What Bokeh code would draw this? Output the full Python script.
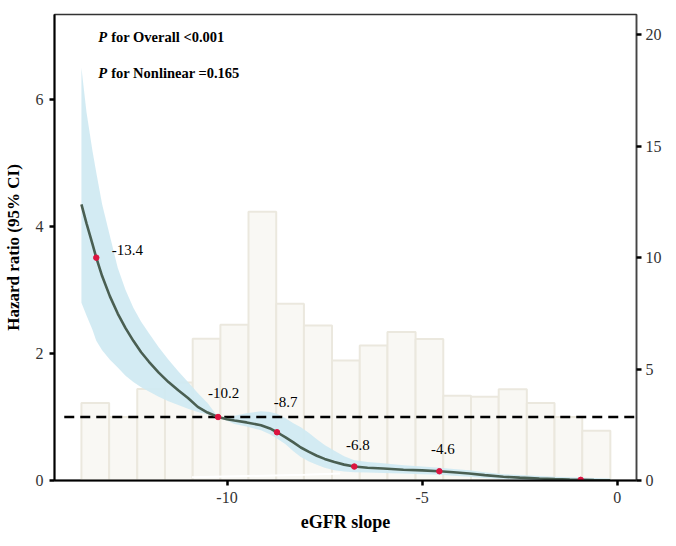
from bokeh.plotting import figure
from bokeh.models import Range1d, LinearAxis, FixedTicker, ColumnDataSource, Label, PrintfTickFormatter
from bokeh.core.properties import value
from bokeh.embed import file_html
from bokeh.resources import INLINE

# ---------------- data ----------------
bin_edges = [-13.73, -13.02, -12.30, -11.59, -10.88, -10.17, -9.45, -8.74, -8.03, -7.31,
             -6.60, -5.89, -5.17, -4.46, -3.75, -3.04, -2.32, -1.61, -0.90, -0.18]
bin_pct = [3.48, 2.85, 4.11, 4.40, 6.36, 6.99, 12.06, 7.93, 6.96, 5.38,
           6.06, 6.66, 6.35, 3.80, 3.76, 4.10, 3.48, 2.85, 2.23]

slope_x = [-13.73, -13.6, -13.45, -13.35, -13.2, -13.0, -12.8, -12.6, -12.4, -12.2,
           -12.0, -11.75, -11.5, -11.25, -11.0, -10.75, -10.5, -10.23,
           -10.0, -9.81, -9.5, -9.13, -8.9, -8.72, -8.5, -8.3, -8.11, -7.9, -7.7,
           -7.5, -7.25, -7.0, -6.74, -6.4, -6.0, -5.48, -5.0, -4.56, -4.2, -3.8,
           -3.4, -2.92, -2.5, -2.0, -1.6, -1.22, -0.6, -0.18]
hr = [4.35, 4.05, 3.73, 3.51, 3.22, 2.9, 2.63, 2.4, 2.2, 2.02,
      1.87, 1.7, 1.55, 1.42, 1.3, 1.16, 1.07, 1.0,
      0.965, 0.945, 0.915, 0.87, 0.82, 0.76, 0.68, 0.6, 0.52, 0.45, 0.39,
      0.34, 0.29, 0.25, 0.22, 0.2, 0.19, 0.17, 0.16, 0.146, 0.13, 0.11,
      0.085, 0.06, 0.045, 0.032, 0.022, 0.015, 0.008, 0.005]
hr_upper = [6.5, 5.8, 5.2, 4.85, 4.35, 3.85, 3.35, 3.0, 2.72, 2.5,
            2.32, 2.1, 1.9, 1.72, 1.55, 1.38, 1.22, 1.0,
            0.99, 1.02, 1.06, 1.09, 1.08, 1.05, 0.98, 0.9, 0.84, 0.75, 0.65,
            0.56, 0.47, 0.38, 0.32, 0.29, 0.27, 0.24, 0.22, 0.2, 0.18, 0.16,
            0.13, 0.1, 0.085, 0.07, 0.06, 0.05, 0.04, 0.03]
hr_lower = [2.8, 2.6, 2.38, 2.2, 2.05, 1.9, 1.78, 1.65, 1.55, 1.47,
            1.4, 1.32, 1.25, 1.19, 1.13, 1.08, 1.04, 1.0,
            0.94, 0.89, 0.85, 0.79, 0.73, 0.66, 0.57, 0.46, 0.37, 0.3, 0.25,
            0.2, 0.16, 0.14, 0.13, 0.125, 0.12, 0.11, 0.1, 0.09, 0.075, 0.06,
            0.04, 0.02, 0.01, 0.0, 0.0, 0.0, 0.0, 0.0]

knot_x = [-13.35, -10.23, -8.72, -6.74, -4.56, -0.94]
knot_hr = [3.51, 1.0, 0.76, 0.22, 0.146, 0.01]
knot_labels = ["-13.4", "-10.2", "-8.7", "-6.8", "-4.6", ""]

white_x = [-10.9, -9.5, -8.0, -7.1]
white_hr = [0.05, 0.07, 0.09, 0.11]

ref_x = [-14.17, 0.49]
ref_hr = [1.0, 1.0]

x_ticks = [-10, -5, 0]
y_ticks = [0, 2, 4, 6]
pct_ticks = [0, 5, 10, 15, 20]

FONT = "Liberation Serif"

p = figure(width=668, height=538, x_range=Range1d(-14.42, 0.49), y_range=Range1d(0, 7.34),
           output_backend="svg", toolbar_location=None,
           min_border_left=53, min_border_right=32, min_border_top=14, min_border_bottom=58)
p.extra_y_ranges = {"hist": Range1d(0, 20.91)}
p.grid.visible = False
p.outline_line_color = "#333333"
p.outline_line_width = 1.5
p.background_fill_color = "white"

# histogram
p.quad(left=bin_edges[:-1], right=bin_edges[1:], bottom=0, top=bin_pct, y_range_name="hist",
       fill_color="#f9f8f4", line_color="#ebe8de", line_width=2)

# confidence band
p.varea(x=slope_x, y1=hr_lower, y2=hr_upper, fill_color="#cfe9f2", fill_alpha=0.92)
p.line(white_x, white_hr, line_color="white", line_width=2)

# reference line
p.line(ref_x, ref_hr, line_color="black", line_width=2.6, line_dash="10 6")

# curve
p.line(slope_x, hr, line_color="#4a5f52", line_width=2.6)

src = ColumnDataSource(dict(x=knot_x, y=knot_hr, t=knot_labels,
                            xo=[31, 5.5, 8.7, 3.5, 3.6, 0], yo=[-8, -24.4, -30, -22, -22.4, 0]))
p.scatter("x", "y", source=src, size=5.5, color="#dc1440")
p.text("x", "y", text="t", source=src, x_offset="xo", y_offset="yo",
       text_font=value(FONT), text_font_size="15px", text_align="center",
       text_baseline="middle", text_color="black")

# p-value annotations
for yy, rest in [(6.98, "for Overall <0.001"), (6.42, "for Nonlinear =0.165")]:
    p.add_layout(Label(x=-13.3, y=yy, text="P", text_font=FONT, text_font_size="14.5px",
                       text_font_style="bold italic", text_baseline="middle", text_color="black"))
    p.add_layout(Label(x=-13.3, y=yy, x_offset=13, text=rest, text_font=FONT,
                       text_font_size="14.5px", text_font_style="bold",
                       text_baseline="middle", text_color="black"))

# axes
def style(ax):
    ax.major_label_text_font = FONT
    ax.major_label_text_font_size = "16px"
    ax.major_label_text_color = "#333333"
    ax.axis_label_text_font = FONT
    ax.axis_label_text_font_style = "bold"
    ax.axis_label_text_color = "black"
    ax.minor_tick_line_color = None
    ax.major_tick_in = 0
    ax.major_tick_out = 5
    ax.major_tick_line_width = 2.5

xa = p.xaxis[0]
style(xa)
xa.ticker = FixedTicker(ticks=x_ticks)
xa.formatter = PrintfTickFormatter(format="%d")
xa.axis_label = "eGFR slope"
xa.axis_label_text_font_size = "18px"
xa.axis_line_width = 2
xa.axis_line_color = "black"
xa.major_label_standoff = 6
xa.axis_label_standoff = 6

ya = p.yaxis[0]
style(ya)
ya.ticker = FixedTicker(ticks=y_ticks)
ya.axis_label = "Hazard ratio (95% CI)"
ya.axis_label_text_font_size = "17px"
ya.axis_line_width = 2
ya.axis_line_color = "black"
ya.major_label_standoff = 6
ya.axis_label_standoff = 10

ra = LinearAxis(y_range_name="hist", ticker=FixedTicker(ticks=pct_ticks))
style(ra)
ra.axis_line_color = "#444444"
ra.axis_line_width = 1.5
ra.major_label_standoff = 4
p.add_layout(ra, "right")

open("out.html", "w").write(file_html(p, INLINE))
